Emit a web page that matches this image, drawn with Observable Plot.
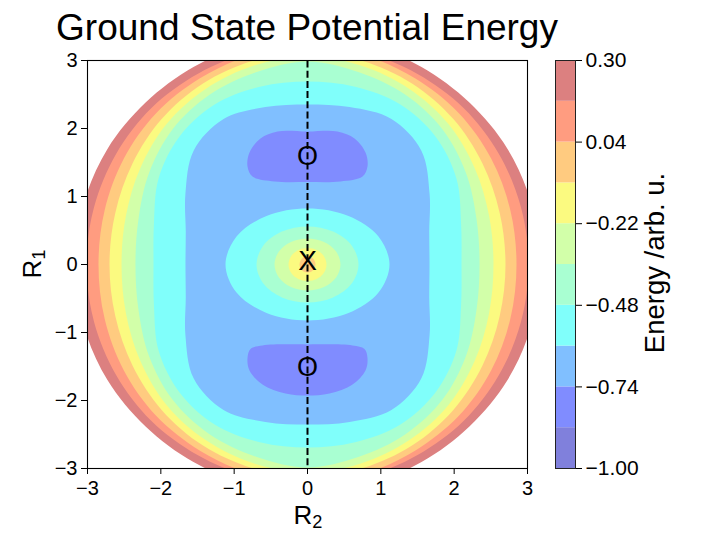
<!DOCTYPE html>
<html><head><meta charset="utf-8">
<script src="https://cdn.jsdelivr.net/npm/d3@7"></script>
<script src="https://cdn.jsdelivr.net/npm/@observablehq/plot@0.6"></script>
<style>
body{margin:0;background:#fff;font-family:"Liberation Sans",Arial,sans-serif;}
#chart{position:relative;width:702px;height:533px;overflow:hidden;background:#fff;}
#chart svg{position:absolute;top:0;}
.lbl{position:absolute;color:#000;white-space:nowrap;}
.rot{transform:translate(-50%,-50%) rotate(-90deg);}
.sub{font-size:0.7em;position:relative;top:0.22em;}
</style></head><body>
<div id="chart"></div>
<script>
// ---- values ----
const levels = [-1.00,-0.87,-0.74,-0.61,-0.48,-0.35,-0.22,-0.09,0.04,0.17,0.30];
const bandColors = ["#8080dc","#808cff","#80bfff","#80fffb","#a9ffd2","#d2ffa9","#fbfa80","#ffcb80","#ff9c80","#dc8080"];
const colorbarTicks = [-1.00,-0.74,-0.48,-0.22,0.04,0.30];
const axisTicks = [-3,-2,-1,0,1,2,3];

// outer closed contours (energy rises outward): first-quadrant points from the R2 axis round to the R1 axis
const ringLevels = [0.30,0.17,0.04,-0.09,-0.22,-0.35,-0.48,-0.61];
const ringR2 = [
 [3.164,3.056,2.728,2.208,1.555,0.805,0],
 [3.014,2.911,2.610,2.131,1.500,0.776,0],
 [2.850,2.766,2.504,2.064,1.466,0.766,0],
 [2.700,2.621,2.386,1.986,1.425,0.745,0],
 [2.536,2.476,2.279,1.919,1.384,0.727,0],
 [2.346,2.305,2.161,1.842,1.336,0.702,0],
 [2.100,2.094,2.031,1.745,1.261,0.649,0],
 [1.664,1.660,1.665,1.553,1.145,0.575,0]
];
const ringR1 = [
 [0,0.883,1.699,2.381,2.904,3.239,3.353],
 [0,0.841,1.625,2.298,2.802,3.125,3.250],
 [0,0.799,1.559,2.225,2.738,3.082,3.221],
 [0,0.757,1.485,2.142,2.662,2.997,3.132],
 [0,0.716,1.419,2.069,2.585,2.926,3.059],
 [0,0.666,1.346,1.986,2.496,2.827,2.985],
 [0,0.605,1.265,1.882,2.356,2.614,2.691],
 [0,0.480,1.037,1.674,2.140,2.315,2.353]
];
// inner closed contours round the central maximum (energy rises inward)
const coreLevels = [-0.61,-0.48,-0.35,-0.22,-0.09];
const coreR2 = [
 [1.118,0.968,0.559,0],
 [0.695,0.602,0.348,0],
 [0.450,0.390,0.225,0],
 [0.259,0.224,0.130,0],
 [0.109,0.094,0.055,0]
];
const coreR1 = [
 [0,0.412,0.714,0.824],
 [0,0.280,0.484,0.559],
 [0,0.191,0.331,0.382],
 [0,0.122,0.210,0.243],
 [0,0.059,0.102,0.118]
];
// the two wells, contour level -0.74: right-half outlines from the R2 = 0 line round and back
const wellLevel = -0.74;
const wellR2 = [
 [0,0.409,0.641,0.791,0.818,0.750,0.450,0],
 [0,0.614,0.777,0.818,0.791,0.614,0.300,0]
];
const wellR1 = [
 [1.956,1.956,1.853,1.647,1.441,1.294,1.221,1.213],
 [-1.176,-1.191,-1.243,-1.375,-1.559,-1.765,-1.897,-1.926]
];
const minimaR2 = [0,0], minimaR1 = [1.55,-1.55];
const saddleR2 = [0], saddleR1 = [0];
const pathR2 = [0,0], pathR1 = [3,-3];

// ---- build closed outlines by mirror symmetry ----
function quarterLoop(xs, ys){
  const n = xs.length, p = [];
  for (let i = 0; i < n; i++) p.push([xs[i], ys[i]]);
  for (let i = n - 2; i >= 0; i--) p.push([-xs[i], ys[i]]);
  for (let i = 1; i < n; i++) p.push([-xs[i], -ys[i]]);
  for (let i = n - 2; i >= 1; i--) p.push([xs[i], -ys[i]]);
  return p;
}
function halfLoop(xs, ys){
  const n = xs.length, p = [];
  for (let i = 0; i < n; i++) p.push([xs[i], ys[i]]);
  for (let i = n - 2; i >= 1; i--) p.push([-xs[i], ys[i]]);
  return p;
}
const shape = (pts, fill) => Plot.line(pts, {x: d => d[0], y: d => d[1], fill, stroke: "none", curve: "catmull-rom-closed", clip: true});

const marks = [];
ringLevels.forEach((lv, k) => marks.push(shape(quarterLoop(ringR2[k], ringR1[k]), bandColors[levels.indexOf(lv) - 1])));
wellR2.forEach((xs, k) => marks.push(shape(halfLoop(xs, wellR1[k]), bandColors[levels.indexOf(wellLevel) - 1])));
coreLevels.forEach((lv, k) => marks.push(shape(quarterLoop(coreR2[k], coreR1[k]), bandColors[levels.indexOf(lv)])));

const font = "'Liberation Sans', Arial, sans-serif";
marks.push(
  Plot.line(pathR1, {x: (d, i) => pathR2[i], y: d => d, stroke: "black", strokeWidth: 2, strokeDasharray: "7,3.2", strokeLinecap: "butt"}),
  Plot.text(minimaR1, {x: (d, i) => minimaR2[i], y: d => d, text: () => "O", fontSize: 27, dy: -3, fill: "black"}),
  Plot.text(saddleR1, {x: (d, i) => saddleR2[i], y: d => d, text: () => "X", fontSize: 28, dy: -3, fill: "black"}),
  Plot.frame({stroke: "black", strokeWidth: 1.1})
);

const intFmt = d3.format("d");
const main = Plot.plot({
  width: 540, height: 533,
  marginLeft: 87, marginRight: 13, marginTop: 60, marginBottom: 65,
  style: {fontFamily: font, fontSize: "20px", color: "black", background: "transparent", overflow: "visible"},
  x: {domain: [-3, 3], ticks: axisTicks, tickFormat: intFmt, tickSize: 6, tickPadding: 6, label: null},
  y: {domain: [-3, 3], ticks: axisTicks, tickFormat: intFmt, tickSize: 6, tickPadding: 4, label: null},
  marks
});
main.style.left = "0px";

const bands = bandColors.map((c, i) => ({lo: levels[i], hi: levels[i + 1], c}));
const cbar = Plot.plot({
  width: 162, height: 533,
  marginLeft: 15, marginRight: 127, marginTop: 60, marginBottom: 65,
  style: {fontFamily: font, fontSize: "21px", color: "black", background: "transparent", overflow: "visible"},
  color: {type: "identity"},
  x: {domain: [0, 1], axis: null},
  y: {domain: [-1.00, 0.30], ticks: colorbarTicks, tickFormat: d3.format(".2f"), tickSize: 6, tickPadding: 4, label: null, axis: "right"},
  marks: [
    Plot.rect(bands, {x1: () => 0, x2: () => 1, y1: "lo", y2: "hi", fill: "c", inset: 0}),
    Plot.frame({stroke: "#222", strokeWidth: 1})
  ]
});
cbar.style.left = "540px";

const chart = document.getElementById("chart");
chart.append(main, cbar);

function label(html, css, cls){
  const d = document.createElement("div");
  d.className = "lbl" + (cls ? " " + cls : "");
  d.innerHTML = html;
  Object.assign(d.style, css);
  chart.append(d);
}
label("Ground State Potential Energy", {left: "0px", width: "614px", textAlign: "center", top: "9px", fontSize: "37px", lineHeight: "37px"});
label("R<span class='sub'>2</span>", {left: "0px", width: "616px", textAlign: "center", top: "502px", fontSize: "26px", lineHeight: "26px"});
label("R<span class='sub'>1</span>", {left: "33px", top: "264px", fontSize: "26px", lineHeight: "26px"}, "rot");
label("Energy /arb. u.", {left: "655px", top: "263px", fontSize: "27.5px", lineHeight: "28px"}, "rot");
</script></body></html>
